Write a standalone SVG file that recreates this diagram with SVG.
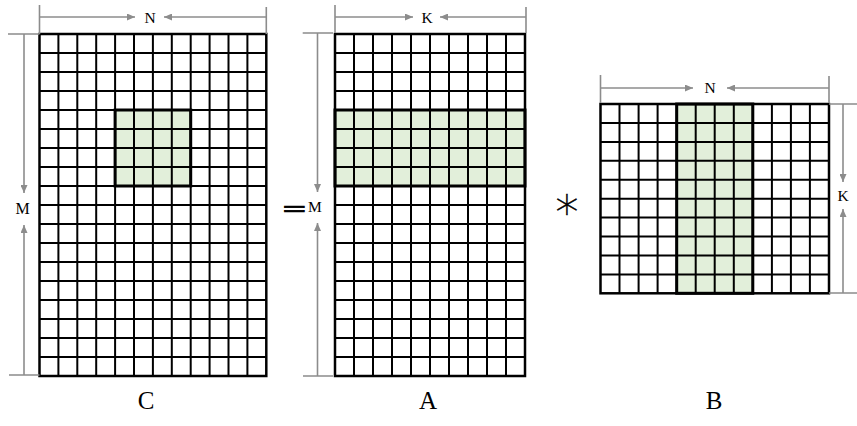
<svg xmlns="http://www.w3.org/2000/svg" width="857" height="426" viewBox="0 0 857 426">
<style>
.hl{fill:#e2efda;stroke:none}
.grid{fill:none;stroke:#000;stroke-width:2}
.hb{fill:none;stroke:#000;stroke-width:3}
.ob{fill:none;stroke:#000;stroke-width:2.5}
.dim{fill:none;stroke:#8c8c8c;stroke-width:1.6}
.da{fill:none;stroke:#8c8c8c;stroke-width:1.6;marker-end:url(#ah)}
.dl{font-family:"Liberation Serif","Times New Roman",serif;font-size:15.5px;fill:#000;text-anchor:middle}
.lb{font-family:"Liberation Serif","Times New Roman",serif;font-size:25px;fill:#000;text-anchor:middle}
</style>
<defs>
<marker id="ah" markerUnits="userSpaceOnUse" markerWidth="8" markerHeight="7" refX="8" refY="3.5" orient="auto">
<path d="M0,0 L8,3.5 L0,7 z" fill="#8c8c8c"/>
</marker>
</defs>
<rect width="857" height="426" fill="#fff"/>

<g id="matrix-C">
<rect class="hl" x="115.1" y="110" width="75.6" height="76"/>
<path class="grid" d="M58.4 34V376M77.3 34V376M96.2 34V376M115.1 34V376M134 34V376M152.9 34V376M171.8 34V376M190.7 34V376M209.6 34V376M228.5 34V376M247.4 34V376
M39.5 53H266.3M39.5 72H266.3M39.5 91H266.3M39.5 110H266.3M39.5 129H266.3M39.5 148H266.3M39.5 167H266.3M39.5 186H266.3M39.5 205H266.3M39.5 224H266.3M39.5 243H266.3M39.5 262H266.3M39.5 281H266.3M39.5 300H266.3M39.5 319H266.3M39.5 338H266.3M39.5 357H266.3"/>
<rect class="hb" x="115.1" y="110" width="75.6" height="76"/>
<rect class="ob" x="39.5" y="34" width="226.8" height="342"/>
<text class="lb" x="146" y="409">C</text>
</g>

<g id="matrix-A">
<rect class="hl" x="335" y="110" width="190" height="76"/>
<path class="grid" d="M354 34V376M373 34V376M392 34V376M411 34V376M430 34V376M449 34V376M468 34V376M487 34V376M506 34V376
M335 53H525M335 72H525M335 91H525M335 110H525M335 129H525M335 148H525M335 167H525M335 186H525M335 205H525M335 224H525M335 243H525M335 262H525M335 281H525M335 300H525M335 319H525M335 338H525M335 357H525"/>
<rect class="hb" x="335" y="110" width="190" height="76"/>
<rect class="ob" x="335" y="34" width="190" height="342"/>
<text class="lb" x="428" y="409">A</text>
</g>

<g id="matrix-B">
<rect class="hl" x="676.7" y="104" width="76.1" height="189.3"/>
<path class="grid" d="M619.5 104V293.3M638.6 104V293.3M657.6 104V293.3M676.7 104V293.3M695.7 104V293.3M714.7 104V293.3M733.8 104V293.3M752.8 104V293.3M771.9 104V293.3M790.9 104V293.3M809.9 104V293.3
M600.5 122.9H829M600.5 141.9H829M600.5 160.8H829M600.5 179.7H829M600.5 198.7H829M600.5 217.6H829M600.5 236.5H829M600.5 255.4H829M600.5 274.4H829"/>
<rect class="hb" x="676.7" y="104" width="76.1" height="189.3"/>
<rect class="ob" x="600.5" y="104" width="228.5" height="189.3"/>
<text class="lb" x="714" y="409">B</text>
</g>

<g id="operators">
<text x="294.5" y="222" transform="translate(294.5 212) scale(1 0.55) translate(-294.5 -212)" style="font-family:'Liberation Serif',serif;font-size:42px;font-weight:bold;text-anchor:middle;stroke:#000;stroke-width:1.2">=</text>
<text x="567" y="219" style="font-family:'DejaVu Sans',sans-serif;font-size:46px;font-weight:200;text-anchor:middle;fill:#000;stroke:#000;stroke-width:0.5">∗</text>
</g>

<g id="connectors">
<!-- C: N -->
<path class="dim" d="M39.5 5V34M266.3 7V34"/>
<path class="da" d="M39.5 17H135"/>
<path class="da" d="M266.3 17H164"/>
<text class="dl" x="150" y="22.5">N</text>
<!-- C: M -->
<path class="dim" d="M8 34H39.5M9 375H39.5"/>
<path class="da" d="M24 34V193"/>
<path class="da" d="M24 375V225"/>
<text class="dl" x="22.5" y="214" style="font-size:16px">M</text>
<!-- A: K -->
<path class="dim" d="M335 5V33M526 7V33"/>
<path class="da" d="M335 17H413"/>
<path class="da" d="M526 17H440"/>
<text class="dl" x="427" y="22.5">K</text>
<!-- A: M -->
<path class="dim" d="M302.7 33H333M303 376H333"/>
<path class="da" d="M317.5 33V192"/>
<path class="da" d="M317.5 376V223"/>
<text class="dl" x="315" y="212">M</text>
<!-- B: N -->
<path class="dim" d="M600.5 75V103M829 76V103"/>
<path class="da" d="M600.5 88H693"/>
<path class="da" d="M829 88H727"/>
<text class="dl" x="710" y="93">N</text>
<!-- B: K -->
<path class="dim" d="M829 104H857M829 293H857"/>
<path class="da" d="M843 104V182"/>
<path class="da" d="M843 293V209"/>
<text class="dl" x="843" y="201">K</text>
</g>
</svg>
